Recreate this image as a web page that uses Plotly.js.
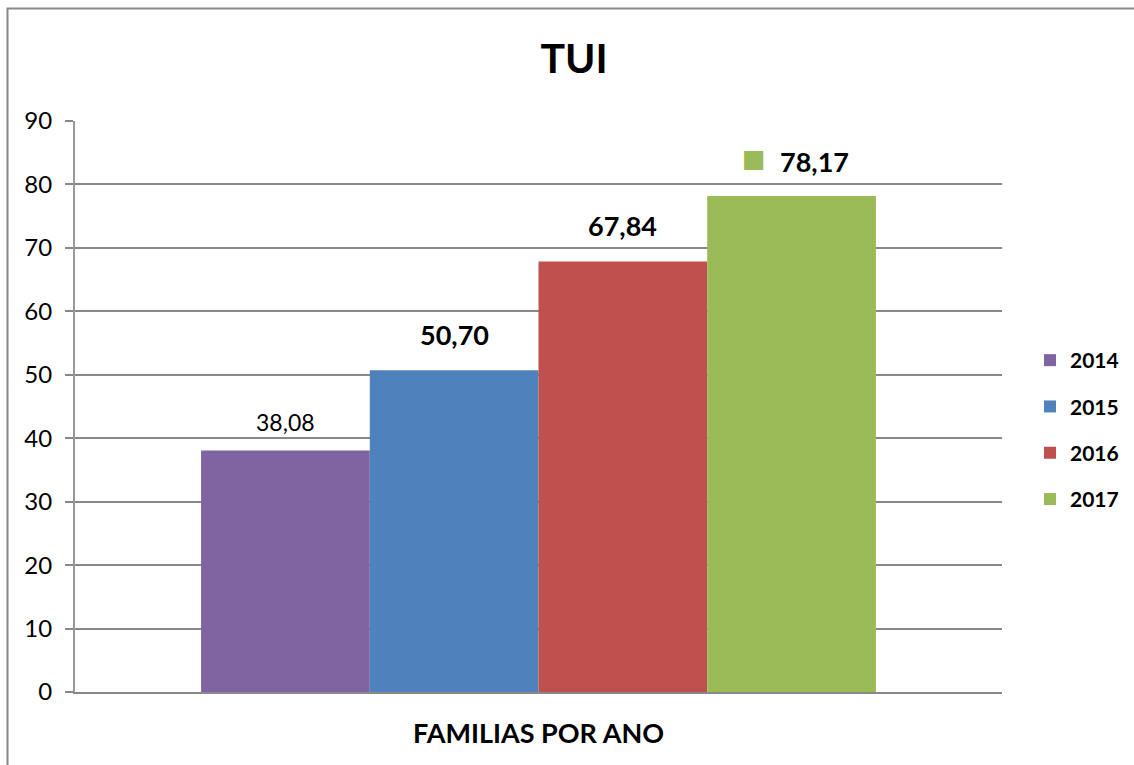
<!DOCTYPE html>
<html>
<head>
<meta charset="utf-8">
<script src="https://cdn.plot.ly/plotly-3.0.1.min.js"></script>
<style>html,body{margin:0;padding:0;background:#fff}#chart{width:1134px;height:765px}</style>
</head>
<body>
<div id="chart"></div>
<script>
const category = ["FAMILIAS POR ANO"];
const years = ["2014", "2015", "2016", "2017"];
const values = [38.08, 50.70, 67.84, 78.17];
const labels = ["38,08", "50,70", "67,84", "78,17"];
const colors = ["#8064A2", "#4F81BD", "#C0504D", "#9BBB59"];
const yTicks = [0, 10, 20, 30, 40, 50, 60, 70, 80, 90];

const FONT = "Lato, 'Open Sans', 'Liberation Sans', sans-serif";
const W = 1134, H = 765;
const margin = {l: 75, r: 132, t: 121, b: 73};
const plotW = W - margin.l - margin.r;
const plotH = H - margin.t - margin.b;
const bargap = 0.272;
const barW = plotW * (1 - bargap) / years.length;

const traces = years.map((y, i) => ({
  type: "bar",
  name: y,
  x: category,
  y: [values[i]],
  marker: {color: colors[i], line: {width: 0}},
  legendgroup: "g" + i,
  hoverinfo: "skip"
}));

const labelStyles = [
  {size: 23, bold: false, yshift: 12},
  {size: 27, bold: true, yshift: 17},
  {size: 27, bold: true, yshift: 18},
  {size: 27, bold: true, yshift: 16}
];

const annotations = years.map((y, i) => {
  const st = labelStyles[i];
  let xs = (i - (years.length - 1) / 2) * barW;
  if (i === 3) xs += 23;
  return {
    x: category[0], y: values[i], xref: "x", yref: "y",
    xshift: xs, yshift: st.yshift,
    text: st.bold ? "<b>" + labels[i] + "</b>" : labels[i],
    showarrow: false, yanchor: "bottom",
    font: {family: FONT, size: st.size, color: "#000"}
  };
});
// legend key shown beside the last data label
annotations.push({
  x: category[0], y: values[3], xref: "x", yref: "y",
  xshift: 1.5 * barW - 38, yshift: 21,
  text: "■", showarrow: false, yanchor: "bottom",
  font: {family: "DejaVu Sans", size: 25, color: colors[3]}
});

const layout = {
  width: W, height: H,
  margin: margin,
  paper_bgcolor: "#fff", plot_bgcolor: "#fff",
  title: {
    text: "<b>TUI</b>",
    x: 574 / W, xref: "container", xanchor: "center",
    y: 1 - 59 / H, yanchor: "middle", yref: "container",
    font: {family: FONT, size: 41, color: "#000"}
  },
  barmode: "group",
  bargap: bargap,
  bargroupgap: 0,
  xaxis: {
    type: "category",
    showgrid: false,
    showline: true, linecolor: "#888", linewidth: 2,
    ticks: "", ticklabelstandoff: 17,
    tickfont: {family: FONT, size: 27, color: "#000", weight: "bold"},
    fixedrange: true, zeroline: false
  },
  yaxis: {
    range: [0, 90],
    tickvals: yTicks,
    ticktext: yTicks.map(String),
    showgrid: true, gridcolor: "#888", gridwidth: 2,
    showline: true, linecolor: "#999", linewidth: 2,
    ticks: "outside", ticklen: 8, tickcolor: "#888", tickwidth: 2,
    ticklabelstandoff: 8,
    tickfont: {family: FONT, size: 24, color: "#000"},
    zeroline: false, fixedrange: true
  },
  legend: {
    xref: "container", yref: "container",
    x: 1030 / W, xanchor: "left", y: 1 - 430 / H, yanchor: "middle",
    font: {family: FONT, size: 21, color: "#000", weight: "bold"},
    traceorder: "grouped", tracegroupgap: 16,
    itemwidth: 30, bgcolor: "rgba(0,0,0,0)"
  },
  annotations: annotations,
  shapes: [{
    type: "rect", xref: "paper", yref: "paper", layer: "below",
    x0: (7.5 - margin.l) / plotW, x1: 1.3,
    y0: -0.3, y1: (margin.t + plotH - 8.5) / plotH,
    line: {color: "#888", width: 2}, fillcolor: "rgba(0,0,0,0)"
  }],
  showlegend: true
};

Plotly.newPlot("chart", traces, layout, {displayModeBar: false, staticPlot: true});
</script>
</body>
</html>
